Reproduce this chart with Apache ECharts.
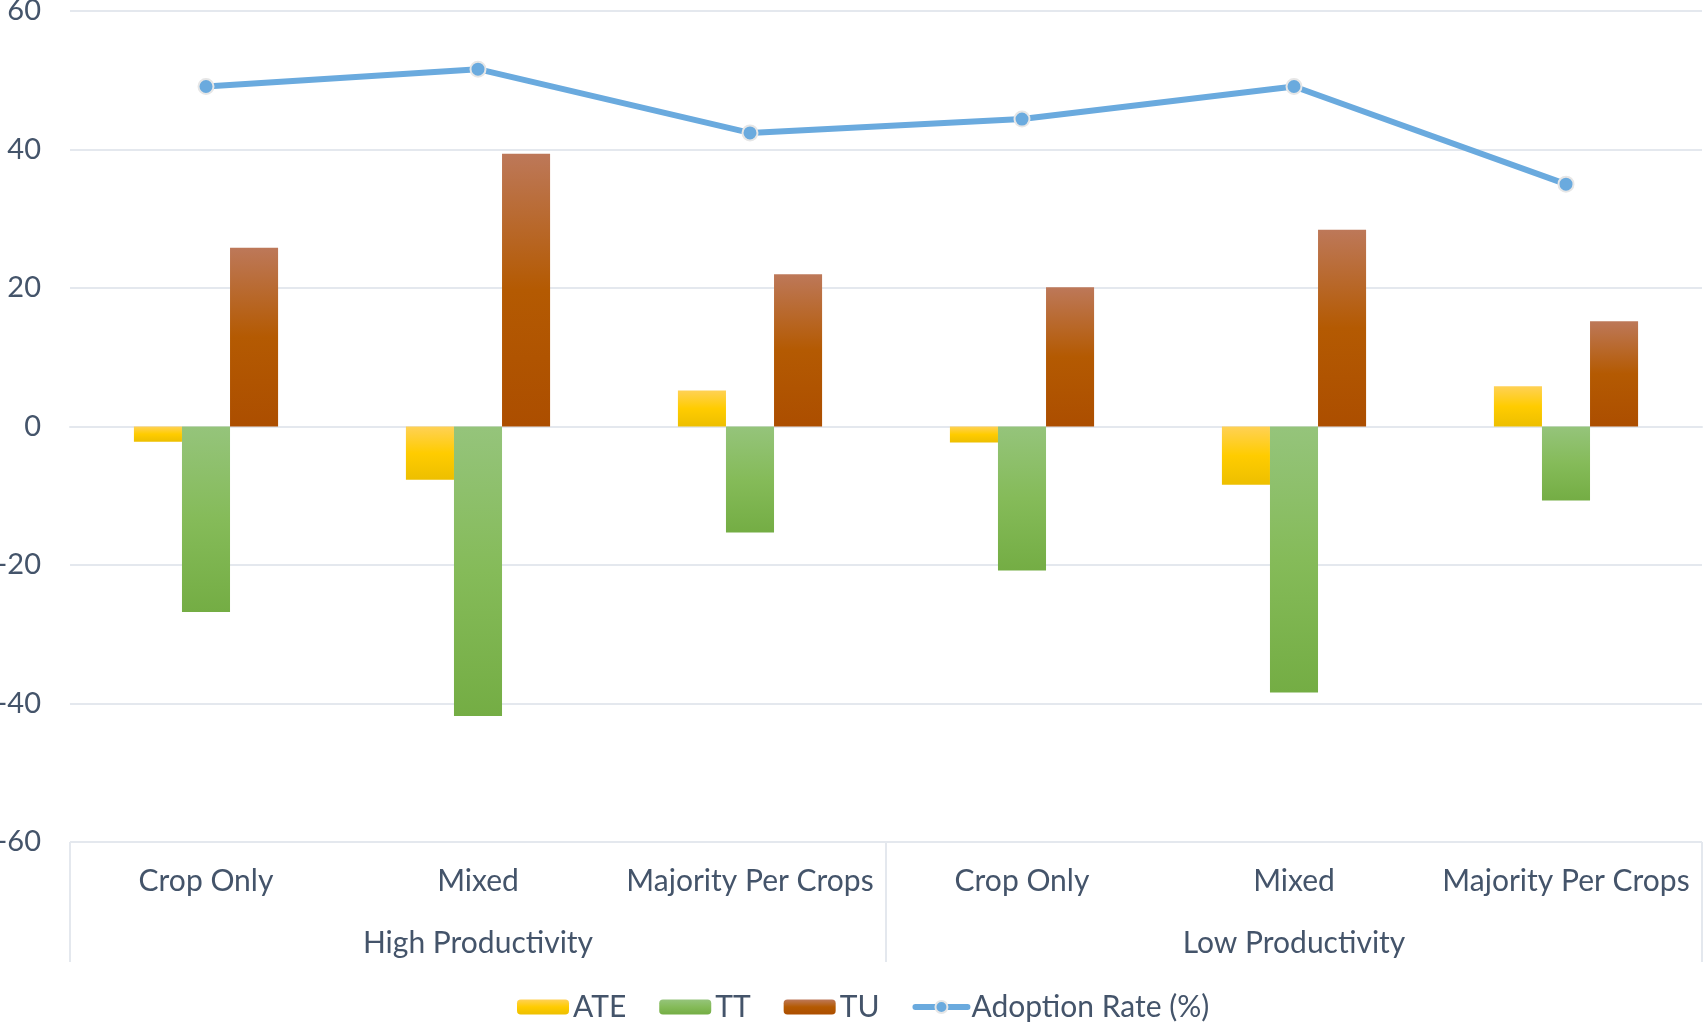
<!DOCTYPE html>
<html>
<head>
<meta charset="utf-8">
<script src="https://cdn.jsdelivr.net/npm/echarts@6/dist/echarts.min.js"></script>
<style>
  html, body { margin: 0; padding: 0; background: #fff; }
  #chart { width: 1703px; height: 1030px; }
</style>
</head>
<body>
<div id="chart"></div>
<script>
// categories
var subCats = ['Crop Only', 'Mixed', 'Majority Per Crops', 'Crop Only', 'Mixed', 'Majority Per Crops'];
var groups = ['High Productivity', 'Low Productivity'];
// series values
var ate = [-2.2, -7.7, 5.2, -2.3, -8.4, 5.8];
var tt = [-26.8, -41.8, -15.3, -20.8, -38.4, -10.7];
var tu = [25.8, 39.4, 22.0, 20.1, 28.4, 15.2];
var adoption = [49.1, 51.6, 42.4, 44.4, 49.1, 35.0];

var textColor = '#44546a';
var gridColor = '#e4e8ee';
var lineColor = '#6aaade';
var font = 'Lato';

function grad(top, mid, bottom) {
	return new echarts.graphic.LinearGradient(0, 0, 0, 1, [
		{offset: 0, color: top},
		{offset: 0.5, color: mid},
		{offset: 1, color: bottom}
	]);
}

var chart = echarts.init(document.getElementById('chart'));
chart.setOption({
	animation: false,
	backgroundColor: '#fff',
	textStyle: {fontFamily: font, color: textColor},
	grid: {left: 70, right: 1, top: 11, bottom: 188, outerBoundsMode: 'none', containLabel: false},
	legend: {
		bottom: 3,
		left: 512,
		itemWidth: 52,
		itemHeight: 15,
		itemGap: 33,
		textStyle: {fontSize: 30, color: textColor, fontFamily: font, padding: [0, 0, 0, -1]},
		data: ['ATE', 'TT', 'TU', {
			name: 'Adoption Rate (%)',
			lineStyle: {width: 6, color: lineColor, cap: 'round'}
		}]
	},
	xAxis: [{
		type: 'category',
		data: subCats,
		axisLine: {show: true, lineStyle: {color: gridColor, width: 2}},
		axisTick: {show: false},
		axisLabel: {fontSize: 30, color: textColor, margin: 24, interval: 0}
	}, {
		type: 'category',
		data: groups,
		position: 'bottom',
		axisLine: {show: false},
		axisTick: {show: true, length: 120, lineStyle: {color: gridColor, width: 2}},
		axisLabel: {fontSize: 30, color: textColor, margin: 86, interval: 0}
	}],
	yAxis: {
		type: 'value',
		min: -60,
		max: 60,
		interval: 20,
		axisLine: {show: false},
		axisTick: {show: false},
		splitLine: {lineStyle: {color: gridColor, width: 2}},
		axisLabel: {fontSize: 29, color: textColor, margin: 29}
	},
	series: [{
		name: 'ATE',
		type: 'bar',
		barGap: '0%',
		barCategoryGap: '47%',
		itemStyle: {color: grad('#ffd155', '#ffcc00', '#edbf00')},
		data: ate
	}, {
		name: 'TT',
		type: 'bar',
		barGap: '0%',
		barCategoryGap: '47%',
		itemStyle: {color: grad('#95c47b', '#85bb59', '#74ad44')},
		data: tt
	}, {
		name: 'TU',
		type: 'bar',
		barGap: '0%',
		barCategoryGap: '47%',
		itemStyle: {color: grad('#bd7859', '#b45a02', '#ac4e00')},
		data: tu
	}, {
		name: 'Adoption Rate (%)',
		type: 'line',
		z: 5,
		symbol: 'circle',
		symbolSize: 15,
		lineStyle: {color: lineColor, width: 6},
		itemStyle: {color: lineColor, borderColor: '#e6e6e6', borderWidth: 2},
		data: adoption
	}]
});
</script>
</body>
</html>
